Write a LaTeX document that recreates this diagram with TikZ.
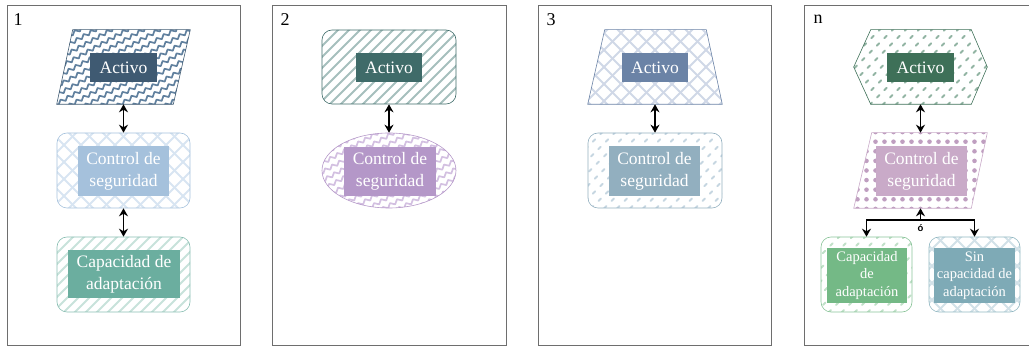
\documentclass[tikz,border=0pt]{standalone}
\usepackage{fontspec}
\setmainfont{Liberation Serif}
\newfontfamily\smallsans{Liberation Sans}
\usetikzlibrary{shapes.geometric,arrows.meta,decorations.pathmorphing}

% frame and connector colours
\definecolor{framegray}{HTML}{6E6E6E}
% panel 1
\definecolor{slateA}{HTML}{3F5A72}\definecolor{slateAp}{HTML}{60809E}
\definecolor{skyB}{HTML}{A5C1DC}\definecolor{skyBp}{HTML}{D8E5F2}
\definecolor{tealC}{HTML}{6BAE9F}\definecolor{tealCp}{HTML}{C8E2DB}
% panel 2
\definecolor{pineA}{HTML}{3F6B69}\definecolor{pineAp}{HTML}{A6BFBD}
\definecolor{lilacB}{HTML}{B497C8}\definecolor{lilacBp}{HTML}{D3C0E1}
% panel 3
\definecolor{steelA}{HTML}{6B83A6}\definecolor{steelAp}{HTML}{D0D8E7}
\definecolor{mistB}{HTML}{92AFBF}\definecolor{mistBp}{HTML}{C6D6E1}
% panel n
\definecolor{forestA}{HTML}{3E7058}\definecolor{forestAp}{HTML}{92B4A3}
\definecolor{mauveB}{HTML}{C9AAC8}\definecolor{mauveBp}{HTML}{BF9EC0}
\definecolor{leafC}{HTML}{74B986}\definecolor{leafCp}{HTML}{C0E0C8}
\definecolor{duskD}{HTML}{7EAAB6}\definecolor{duskDp}{HTML}{D2E1E8}

\tikzset{
  panel/.style={draw=framegray, line width=0.8pt},
  panelno/.style={font=\fontsize{18}{20}\selectfont, inner sep=0pt},
  tag/.style={rectangle, inner sep=0pt, text=white, align=center,
    font=\fontsize{17.5}{22}\selectfont},
  smalltag/.style={rectangle, inner sep=0pt, text=white, align=center,
    font=\fontsize{14.5}{17.5}\selectfont},
  box/.style={inner sep=0pt, line width=0.6pt},
  frame/.style={box, rectangle},
  roundbox/.style={box, rectangle, rounded corners=10pt},
  outline/.style={line width=0.6pt},
  link/.style={{Stealth[length=8pt,width=9pt]}-{Stealth[length=8pt,width=9pt]}, line width=1.9pt},
  branch/.style={-{Stealth[length=8pt,width=9pt]}, line width=1.9pt},
  % diagonal straight hatching: colour, horizontal spacing
  stripefill/.style 2 args={path picture={
    \begin{scope}[shift={(path picture bounding box.center)}]
      \foreach \k in {-18,...,18}
        \draw[#1, line width=2pt] (\k*#2-90,90) -- (\k*#2+90,-90);
    \end{scope}}},
  % dashed diagonal hatching
  dashfill/.style 2 args={path picture={
    \begin{scope}[shift={(path picture bounding box.center)}]
      \foreach \k in {-16,...,16}
        \draw[#1, line width=1.8pt, dash pattern=on 3.5pt off 7pt, line cap=round]
          (\k*#2-90,90) -- (\k*#2+90,-90);
    \end{scope}}},
  % cross hatching
  crossfill/.style 2 args={path picture={
    \begin{scope}[shift={(path picture bounding box.center)}]
      \foreach \k in {-16,...,16}{
        \draw[#1, line width=2pt] (\k*#2-90,90) -- (\k*#2+90,-90);
        \draw[#1, line width=2pt] (\k*#2-90,-90) -- (\k*#2+90,90);}
    \end{scope}}},
  % rising zigzag strokes
  zigfill/.style 2 args={path picture={
    \begin{scope}[shift={(path picture bounding box.center)}]
      \foreach \k in {-18,...,18}
        \draw[#1, line width=1.7pt, line join=round, decorate,
              decoration={zigzag, segment length=8pt, amplitude=1.8pt}]
          (\k*#2-120,66) -- (\k*#2+120,-66);
    \end{scope}}},
  % grid of dots
  dotfill/.style={path picture={
    \begin{scope}[shift={(path picture bounding box.center)}]
      \foreach \i in {-8,...,8}
        \foreach \j in {-4,...,4}
          \fill[#1] (\i*9,\j*9.6) circle (2.3pt);
    \end{scope}}},
}

\begin{document}
\begin{tikzpicture}[x=1pt, y=-1pt]
\useasboundingbox (0,0) rectangle (1029,347);

% ---------------- frames ----------------
\draw[panel] (7,5) rectangle (240,345);
\draw[panel] (272,5) rectangle (506,345);
\draw[panel] (538,5) rectangle (771,345);
\draw[panel] (804,5) rectangle (1037,345);

\node[panelno] (p1) at (18,20) {1};
\node[panelno] (p2) at (285,20) {2};
\node[panelno] (p3) at (551,20) {3};
\node[panelno] (p4) at (818,19) {n};

% ---------------- panel 1 ----------------
\node[frame, minimum width=133pt, minimum height=74pt] (a1) at (123.5,67) {};
\path[outline, draw=slateA, zigfill={slateAp}{16}]
  (a1.south west) -- ([xshift=16pt]a1.north west) -- (a1.north east)
  -- ([xshift=-17pt]a1.south east) -- cycle;
\node[tag, fill=slateA, minimum width=67pt, minimum height=29pt] (a1t) at (123.5,67.5) {Activo};

\node[roundbox, minimum width=133pt, minimum height=75pt, draw=skyB,
      crossfill={skyBp}{17}] (c1) at (123.5,170.5) {};
\node[tag, fill=skyB, minimum width=91pt, minimum height=50pt] (c1t) at (123.5,171) {Control de\\seguridad};

\node[roundbox, minimum width=133pt, minimum height=75pt, draw=tealC!80,
      stripefill={tealCp}{11}] (k1) at (123.5,274.5) {};
\node[tag, fill=tealC, minimum width=112pt, minimum height=48pt] (k1t) at (124,274) {Capacidad de\\adaptación};

\draw[link] (a1.south) -- (c1.north);
\draw[link] (c1.south) -- (k1.north);

% ---------------- panel 2 ----------------
\node[roundbox, minimum width=134pt, minimum height=74pt, draw=pineA,
      stripefill={pineAp}{11}] (a2) at (389,67) {};
\node[tag, fill=pineA, minimum width=66pt, minimum height=29pt] (a2t) at (389,67.5) {Activo};

\node[box, ellipse, minimum width=134pt, minimum height=75pt, draw=lilacB,
      zigfill={lilacBp}{16}] (c2) at (389,170.5) {};
\node[tag, fill=lilacB, minimum width=92pt, minimum height=49pt] (c2t) at (390,171.5) {Control de\\seguridad};

\draw[link] (a2.south) -- (c2.north);

% ---------------- panel 3 ----------------
\node[frame, minimum width=134pt, minimum height=74pt] (a3) at (655,67) {};
\path[outline, draw=steelA, crossfill={steelAp}{17}]
  (a3.south west) -- ([xshift=17pt]a3.north west) -- ([xshift=-16pt]a3.north east)
  -- (a3.south east) -- cycle;
\node[tag, fill=steelA, minimum width=66pt, minimum height=29pt] (a3t) at (655,67.5) {Activo};

\node[roundbox, minimum width=134pt, minimum height=75pt, draw=mistB,
      dashfill={mistBp}{13}] (c3) at (655,170.5) {};
\node[tag, fill=mistB, minimum width=91pt, minimum height=50pt] (c3t) at (654.5,171) {Control de\\seguridad};

\draw[link] (a3.south) -- (c3.north);

% ---------------- panel n ----------------
\node[frame, minimum width=133pt, minimum height=74pt] (a4) at (920.5,67) {};
\path[outline, draw=forestA, dashfill={forestAp}{13}]
  (a4.west) -- ([xshift=17pt]a4.north west) -- ([xshift=-16pt]a4.north east)
  -- (a4.east) -- ([xshift=-16pt]a4.south east) -- ([xshift=17pt]a4.south west) -- cycle;
\node[tag, fill=forestA, minimum width=67pt, minimum height=29pt] (a4t) at (920.5,67.5) {Activo};

\node[frame, minimum width=133pt, minimum height=75pt] (c4) at (920.5,170.5) {};
\path[outline, draw=mauveB, dotfill={mauveBp}]
  (c4.south west) -- ([xshift=18pt]c4.north west) -- (c4.north east)
  -- ([xshift=-16pt]c4.south east) -- cycle;
\node[tag, fill=mauveB, minimum width=91pt, minimum height=50pt] (c4t) at (921.5,171) {Control de\\seguridad};

\node[roundbox, minimum width=91pt, minimum height=75pt, draw=leafC!85,
      dashfill={leafCp}{13}] (k4) at (866.5,274.5) {};
\node[smalltag, fill=leafC, minimum width=80pt, minimum height=55pt] (k4t) at (867,275.5) {Capacidad\\de\\adaptación};

\node[roundbox, minimum width=91pt, minimum height=75pt, draw=duskD!85,
      crossfill={duskDp}{17}] (s4) at (974.5,274.5) {};
\node[smalltag, fill=duskD, minimum width=81pt, minimum height=55pt] (s4t) at (974.5,275.5) {Sin\\capacidad de\\adaptación};

\draw[link] (a4.south) -- (c4.north);
\coordinate (j4) at (920.5,220);
\draw[branch] (j4) -- (c4.south);
\draw[branch] (j4) -| (k4.north);
\draw[branch] (j4) -| (s4.north);
\node[font=\smallsans\bfseries\fontsize{9.5}{10}\selectfont, inner sep=0pt] (or4) at (920.5,228.5) {ó};

\end{tikzpicture}
\end{document}
